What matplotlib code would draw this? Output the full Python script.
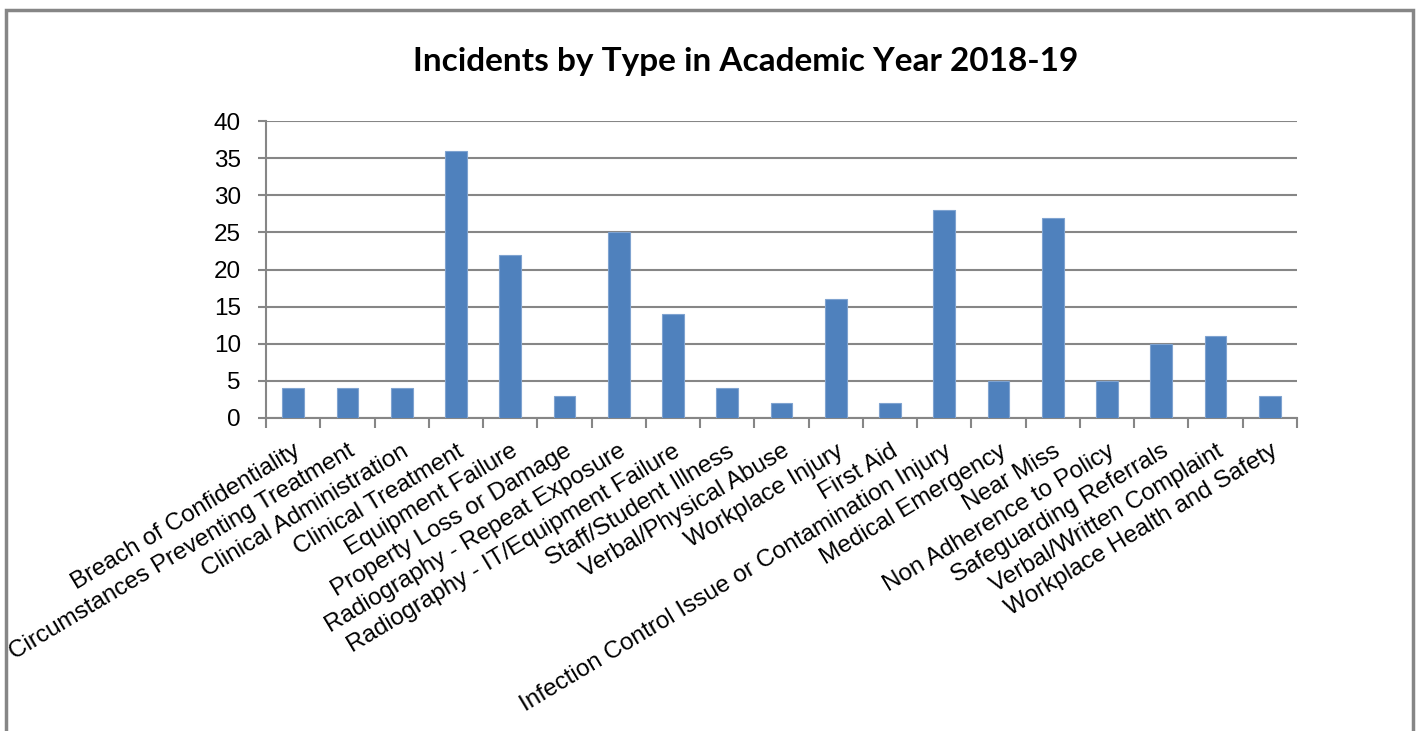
import numpy as np
import matplotlib
matplotlib.use("Agg")
from matplotlib import pyplot as plt
from matplotlib.patches import Rectangle

categories = [
    "Breach of Confidentiality",
    "Circumstances Preventing Treatment",
    "Clinical Administration",
    "Clinical Treatment",
    "Equipment Failure",
    "Property Loss or Damage",
    "Radiography - Repeat Exposure",
    "Radiography - IT/Equipment Failure",
    "Staff/Student Illness",
    "Verbal/Physical Abuse",
    "Workplace Injury",
    "First Aid",
    "Infection Control Issue or Contamination Injury",
    "Medical Emergency",
    "Near Miss",
    "Non Adherence to Policy",
    "Safeguarding Referrals",
    "Verbal/Written Complaint",
    "Workplace Health and Safety",
]
counts = [4, 4, 4, 36, 22, 3, 25, 14, 4, 2, 16, 2, 28, 5, 27, 5, 10, 11, 3]
y_ticks = [0, 5, 10, 15, 20, 25, 30, 35, 40]
title = "Incidents by Type in Academic Year 2018-19"

plt.rcParams['font.family'] = ['Liberation Sans', 'DejaVu Sans']

fig = plt.figure(figsize=(14.18, 7.31), dpi=100)
# chart frame like excel
fig.patches.append(Rectangle((6 / 1418, -0.1), (1413 - 6) / 1418, 1.1 - 10 / 731,
                             transform=fig.transFigure, fill=False,
                             edgecolor='#868686', linewidth=2.5))

ax = fig.add_axes([266 / 1418, 1 - 418 / 731, (1297 - 266) / 1418, (418 - 121) / 731])
x = np.arange(len(categories))
ax.bar(x, counts, width=0.4, color='#4F81BD', edgecolor='#7FA3D0', linewidth=0.8, zorder=3)

ax.set_xlim(-0.5, len(categories) - 0.5)
ax.set_ylim(0, 40)
ax.set_yticks(y_ticks)
ax.tick_params(axis='y', labelsize=17.5, length=6, width=1.5, color='#868686', pad=12)
ax.grid(axis='y', color='#868686', linewidth=1.5, zorder=0)

ax.set_xticks(x)
ax.set_xticklabels(categories, rotation=31, ha='right', rotation_mode='anchor', fontsize=17.5)
ax.tick_params(axis='x', which='major', length=0, pad=16)
ax.set_xticks(np.arange(-0.5, len(categories)), minor=True)
ax.tick_params(axis='x', which='minor', length=7, width=1.5, color='#868686')

for s in ['top', 'right']:
    ax.spines[s].set_visible(False)
for s in ['left', 'bottom']:
    ax.spines[s].set_color('#868686')
    ax.spines[s].set_linewidth(1.5)

fig.text(746 / 1418, 1 - 61 / 731, title, ha='center', va='center',
         fontsize=24, fontweight='bold', family=['Lato', 'DejaVu Sans'])

fig.savefig("out.png", dpi=100)
